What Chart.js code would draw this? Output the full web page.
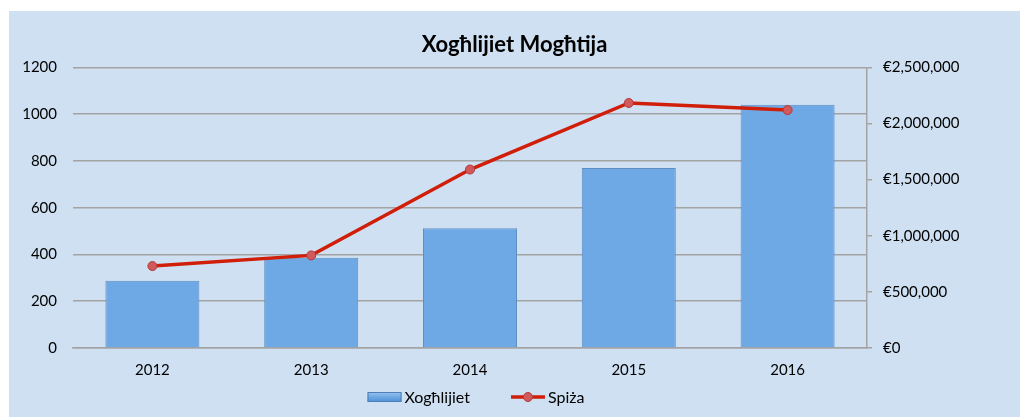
<!DOCTYPE html>
<html>
<head>
<meta charset="utf-8">
<script src="https://cdn.jsdelivr.net/npm/chart.js@4.4.1/dist/chart.umd.min.js"></script>
<style>
  html, body { margin: 0; padding: 0; background: #ffffff; width: 1020px; height: 417px; overflow: hidden; }
  #wrap { position: absolute; left: 9px; top: 11px; width: 1011px; height: 406px; background: #cfe0f2; }
  canvas { display: block; }
</style>
</head>
<body>
<div id="wrap"><canvas id="c" width="1011" height="406"></canvas></div>
<script>
const categories = ['2012', '2013', '2014', '2015', '2016'];
const xoghlijiet = [288, 386, 512, 770, 1040];
const spiza = [730000, 825000, 1590000, 2183000, 2120000];
const leftTicks = [0, 200, 400, 600, 800, 1000, 1200];
const rightTicks = [0, 500000, 1000000, 1500000, 2000000, 2500000];
const titleText = 'Xogħlijiet Mogħtija';
const seriesNames = ['Xogħlijiet', 'Spiża'];

const FONT = 'Lato, "Open Sans", sans-serif';
const GRID = '#a3a3a3';

const legendPlugin = {
  id: 'customLegend',
  afterDraw(chart) {
    const ctx = chart.ctx;
    const ca = chart.chartArea;
    const y = 386;
    ctx.save();
    ctx.font = '16px ' + FONT;
    ctx.textBaseline = 'middle';
    ctx.fillStyle = '#000';
    const w0 = ctx.measureText(seriesNames[0]).width;
    const w1 = ctx.measureText(seriesNames[1]).width;
    const sw = 34, gapText = 3, gapItems = 41;
    const total = sw + gapText + w0 + gapItems + sw + gapText + w1;
    let x = (ca.left + ca.right) / 2 - total / 2 + 6;
    const g = ctx.createLinearGradient(0, y - 5, 0, y + 5);
    g.addColorStop(0, '#9cc3ee');
    g.addColorStop(0.5, '#6ea8e4');
    g.addColorStop(1, '#4f8fd6');
    ctx.fillStyle = g;
    ctx.fillRect(x, y - 5, sw, 10);
    ctx.strokeStyle = '#4a7fb8';
    ctx.lineWidth = 1;
    ctx.strokeRect(x + 0.5, y - 4.5, sw - 1, 9);
    x += sw + gapText;
    ctx.fillStyle = '#000';
    ctx.fillText(seriesNames[0], x, y + 1);
    x += w0 + gapItems;
    ctx.strokeStyle = '#d01e08';
    ctx.lineWidth = 3.5;
    ctx.beginPath();
    ctx.moveTo(x, y);
    ctx.lineTo(x + sw, y);
    ctx.stroke();
    ctx.beginPath();
    ctx.arc(x + sw / 2, y, 4.5, 0, Math.PI * 2);
    ctx.fillStyle = '#d2595b';
    ctx.fill();
    ctx.lineWidth = 1;
    ctx.strokeStyle = '#b23a3a';
    ctx.stroke();
    x += sw + gapText;
    ctx.fillStyle = '#000';
    ctx.fillText(seriesNames[1], x, y + 1);
    ctx.restore();
  }
};

new Chart(document.getElementById('c'), {
  data: {
    labels: categories,
    datasets: [
      {
        type: 'line',
        label: seriesNames[1],
        data: spiza,
        yAxisID: 'y1',
        borderColor: '#d01e08',
        borderWidth: 3.5,
        pointRadius: 4.5,
        pointBackgroundColor: '#d2595b',
        pointBorderColor: '#b23a3a',
        pointBorderWidth: 1,
        tension: 0,
        order: 0
      },
      {
        type: 'bar',
        label: seriesNames[0],
        data: xoghlijiet,
        yAxisID: 'y',
        backgroundColor: '#6fa9e5',
        borderColor: '#5d8fc4',
        borderWidth: 1,
        barPercentage: 0.592,
        categoryPercentage: 1,
        order: 1
      }
    ]
  },
  options: {
    responsive: false,
    animation: false,
    layout: { padding: { left: 0, right: 0, top: 0, bottom: 29 } },
    plugins: {
      legend: { display: false },
      tooltip: { enabled: false },
      title: {
        display: true,
        text: titleText,
        color: '#000',
        font: { family: FONT, size: 22, weight: 'bold' },
        padding: { top: 21, bottom: 9 }
      }
    },
    scales: {
      x: {
        type: 'category',
        grid: { display: false, drawTicks: false },
        border: { display: true, color: GRID, width: 1.5 },
        ticks: { color: '#000', font: { family: FONT, size: 15 }, padding: 13 },
        afterFit(s) { s.height = 40; }
      },
      y: {
        type: 'linear',
        position: 'left',
        min: 0, max: 1200,
        afterBuildTicks(s) { s.ticks = leftTicks.map(v => ({ value: v })); },
        grid: { color: GRID, lineWidth: 1.5, drawTicks: false },
        border: { display: false },
        ticks: { color: '#000', font: { family: FONT, size: 15 }, padding: 16, callback: v => String(v) },
        afterFit(s) { s.width = 64; }
      },
      y1: {
        type: 'linear',
        position: 'right',
        min: 0, max: 2500000,
        afterBuildTicks(s) { s.ticks = rightTicks.map(v => ({ value: v })); },
        grid: { drawOnChartArea: false, drawTicks: true, tickLength: 5, color: GRID, lineWidth: 1.5 },
        border: { display: true, color: GRID, width: 1.5 },
        ticks: {
          color: '#000', font: { family: FONT, size: 15 }, padding: 11,
          callback: v => '€' + Number(v).toLocaleString('en-US')
        },
        afterFit(s) { s.width = 153; }
      }
    }
  },
  plugins: [legendPlugin]
});
</script>
</body>
</html>
